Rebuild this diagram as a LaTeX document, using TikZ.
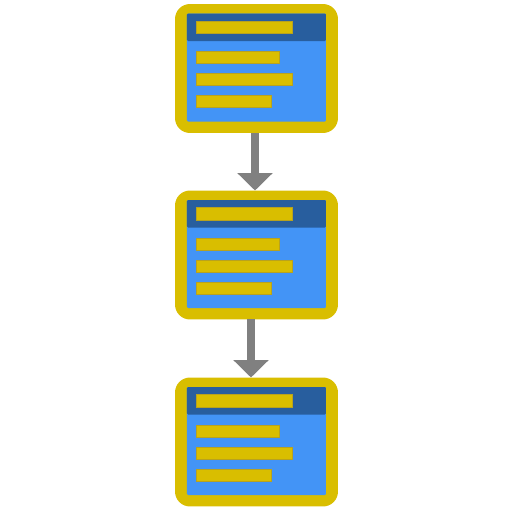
\documentclass[tikz,border=0pt]{standalone}
\usetikzlibrary{arrows.meta,calc}

\definecolor{frameyellow}{HTML}{D9BE00}
\definecolor{barborder}{HTML}{B8A21E}
\definecolor{panelblue}{HTML}{4394F6}
\definecolor{headblue}{HTML}{285E9E}
\definecolor{flowgray}{HTML}{808080}

\tikzset{
    frame/.style={fill=frameyellow, rounded corners=8.5pt, inner sep=0pt, outer sep=0pt,
        minimum width=3.26cm, minimum height=2.58cm},
    panel/.style={fill=panelblue, rounded corners=0.6pt},
    header/.style={fill=headblue, rounded corners=0.6pt},
    bar/.style={fill=frameyellow, draw=barborder, line width=0.3pt},
    flow/.style={draw=flowgray, line width=4.5pt,
        -{Triangle[width=19.5pt, length=9.9pt]}}
}

\begin{document}
\begin{tikzpicture}[x=0.02cm, y=-0.02cm]
    \useasboundingbox (0,0) rectangle (512,512);
    % three stacked windows
    \foreach \i/\y in {1/4, 2/190.5, 3/377.5} {
        \begin{scope}[shift={(175,\y)}]
            \node[frame] (win\i) at (81.5,64.5) {};
            \fill[panel] (12,9.5) rectangle (151,117.5);
            \fill[header] (12,9.5) rectangle (151,37);
            \draw[bar] (21,17) rectangle (117.7,29.3);
            \draw[bar] (21,47.7) rectangle (104.3,59.3);
            \draw[bar] (21,69.3) rectangle (117.7,81.7);
            \draw[bar] (21,91.7) rectangle (96.3,103.7);
        \end{scope}
    }
    % arrows between them
    \draw[flow] ($(win1.south)+(-1.5,0)$) -- ($(win2.north)+(-1.5,0)$);
    \draw[flow] ($(win2.south)+(-5.5,0)$) -- ($(win3.north)+(-5.5,0)$);
\end{tikzpicture}
\end{document}
